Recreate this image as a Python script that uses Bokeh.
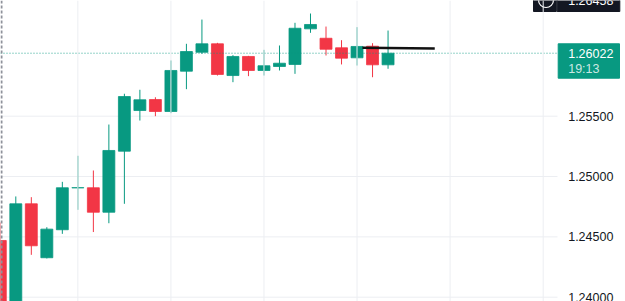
from bokeh.plotting import figure
from bokeh.models import Range1d, Span, ColumnDataSource
from bokeh.core.properties import value
from bokeh.embed import file_html
from bokeh.resources import INLINE

# ---- data (GBP/USD-like candles) ----
opens  = [1.24470, 1.23810, 1.24774, 1.24327, 1.24559, 1.24906, 1.24907, 1.24704,
          1.25210, 1.25547, 1.25638, 1.25539, 1.25873, 1.26030, 1.26100, 1.25837,
          1.25995, 1.25879, 1.25912, 1.25929, 1.26224, 1.26146, 1.26067, 1.25984,
          1.26080, 1.25926]
highs  = [1.24619, 1.24835, 1.24829, 1.24580, 1.24956, 1.25172, 1.25050, 1.25431,
          1.25686, 1.25719, 1.25657, 1.25962, 1.26100, 1.26301, 1.26108, 1.26006,
          1.26000, 1.26050, 1.26086, 1.26274, 1.26351, 1.26243, 1.26130, 1.26238,
          1.26105, 1.26210]
lows   = [1.23724, 1.23760, 1.24351, 1.24321, 1.24525, 1.24724, 1.24540, 1.24613,
          1.24774, 1.25464, 1.25500, 1.25525, 1.25724, 1.26017, 1.25837, 1.25782,
          1.25832, 1.25837, 1.25879, 1.25851, 1.26191, 1.26003, 1.25929, 1.25920,
          1.25823, 1.25893]
closes = [1.23807, 1.24774, 1.24426, 1.24564, 1.24907, 1.24908, 1.24704, 1.25216,
          1.25663, 1.25636, 1.25539, 1.25879, 1.26036, 1.26100, 1.25846, 1.25995,
          1.25879, 1.25918, 1.25939, 1.26229, 1.26260, 1.26055, 1.25981, 1.26078,
          1.25926, 1.26022]
price_ticks = [1.24000, 1.24500, 1.25000, 1.25500]
tick_labels = ["1.24000", "1.24500", "1.25000", "1.25500"]
vgrid_bars = [5, 11, 17, 23, 29]
trend_x = [23.35, 28.01]
trend_y = [1.26067, 1.26061]
alert_price = 1.26458
alert_label = "1.26458"
last_label = "1.26022"
countdown = "19:13"

UP, DOWN = "#089981", "#F23645"
GRID = "#eceef2"

W, H = 625, 301
BAR = 15.51            # pixels per bar
X0 = 0.0129            # bar index at left edge
YTOP, YBOT = 1.264589, 1.239643
K = (YTOP - YBOT) / H  # price per pixel

def px(x):  # pixel -> bar index (for decorations only)
    return X0 + x / BAR

def py(y):  # pixel -> price (for decorations only)
    return YTOP - y * K

p = figure(width=W, height=H, output_backend="svg", toolbar_location=None,
           x_range=Range1d(X0, X0 + W / BAR), y_range=Range1d(YBOT, YTOP),
           x_axis_location=None, y_axis_location=None, min_border=0,
           outline_line_color=None, background_fill_color="white",
           border_fill_color="white")
p.grid.visible = False

# grid
for b in vgrid_bars:
    p.add_layout(Span(location=b, dimension="height", line_color=GRID, line_width=1))
p.add_layout(Span(location=px(542.7), dimension="height", line_color=GRID, line_width=1))
p.segment(x0=[X0] * len(price_ticks), x1=[px(557)] * len(price_ticks),
          y0=price_ticks, y1=price_ticks, line_color=GRID, line_width=1)
p.add_layout(Span(location=px(1.0), dimension="height", line_color="#8f929b",
                  line_width=2, line_dash="3 2"))

# candles
idx = list(range(len(opens)))
colors = [UP if c >= o else DOWN for o, c in zip(opens, closes)]
src = ColumnDataSource(dict(x=idx, o=opens, h=highs, l=lows, c=closes,
                            top=[max(o, c) for o, c in zip(opens, closes)],
                            bot=[min(o, c) for o, c in zip(opens, closes)],
                            col=colors))
p.segment(x0="x", x1="x", y0="l", y1="h", line_color="col", line_width=1, source=src)
p.vbar(x="x", width=0.77, top="top", bottom="bot", fill_color="col",
       line_color="col", line_width=0.8, source=src)

# last price dotted line
last = closes[-1]
p.segment(x0=[X0], x1=[px(557)], y0=[last], y1=[last], line_color=UP,
          line_alpha=0.85, line_width=1, line_dash="1 2")

# user trend line
p.line(trend_x, trend_y, line_color="#111111", line_width=2.5)

# price scale labels
p.text(x=[px(567.7)] * len(price_ticks), y=price_ticks, text=tick_labels,
       text_font=value("Liberation Sans"), text_font_size="12.5px",
       text_color="#131722", text_baseline="middle", text_align="left")

# last price badge
p.quad(left=[px(557.7)], right=[px(619)], top=[py(43.3)], bottom=[py(77.7)],
       fill_color=UP, line_color=UP)
p.text(x=[px(567.7)], y=[last], text=[last_label], text_font=value("Liberation Sans"),
       text_font_size="12.5px", text_color="white", text_baseline="middle",
       text_align="left")
p.text(x=[px(567.7)], y=[py(68.3)], text=[countdown], text_font=value("Liberation Sans"),
       text_font_size="12.5px", text_color="white", text_alpha=0.8,
       text_baseline="middle", text_align="left")

# alert badge at top
p.quad(left=[px(533), px(556.7)], right=[px(555.8), px(619.3)],
       top=[py(-12), py(-12)], bottom=[py(11), py(11)],
       fill_color="#131722", line_color="#131722")
p.scatter(x=[px(545.5)], y=[py(-0.5)], size=15, marker="circle",
          fill_color=None, line_color="white", line_width=1.2)
p.text(x=[px(567.7)], y=[alert_price], text=[alert_label],
       text_font=value("Liberation Sans"), text_font_size="12.5px",
       text_color="white", text_baseline="middle", text_align="left")

open("out.html", "w").write(file_html(p, INLINE))
